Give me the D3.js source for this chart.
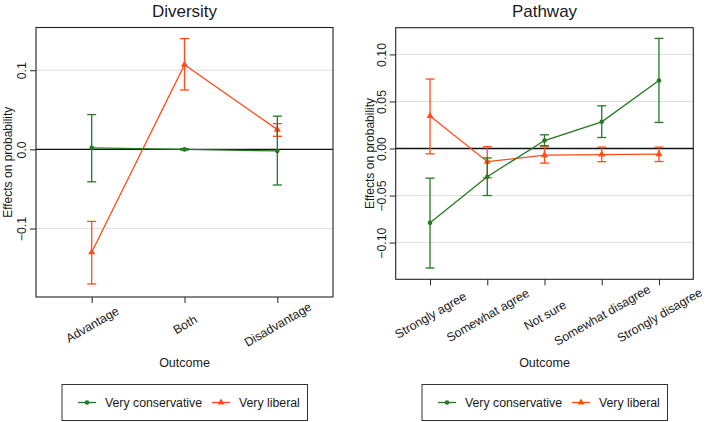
<!DOCTYPE html>
<html>
<head>
<meta charset="utf-8">
<script src="https://cdn.jsdelivr.net/npm/d3@7"></script>
<style>
  body { margin: 0; background: #fff; }
  text { font-family: "Liberation Sans", Arial, sans-serif; fill: #1a1a1a; }
</style>
</head>
<body>
<script>
// data
const divCategories = ['Advantage', 'Both', 'Disadvantage'];
const divConsEst  = [0.002, 0.0, -0.002];
const divConsLow  = [-0.041, -0.0008, -0.045];
const divConsHigh = [0.044, 0.0008, 0.042];
const divLibEst   = [-0.130, 0.107, 0.025];
const divLibLow   = [-0.170, 0.075, 0.0165];
const divLibHigh  = [-0.091, 0.140, 0.0325];
const divTicks    = [-0.1, 0.0, 0.1];

const pathCategories = ['Strongly agree', 'Somewhat agree', 'Not sure', 'Somewhat disagree', 'Strongly disagree'];
const pathConsEst  = [-0.079, -0.030, 0.0085, 0.0284, 0.0723];
const pathConsLow  = [-0.127, -0.050, 0.003, 0.0117, 0.0277];
const pathConsHigh = [-0.0315, -0.010, 0.0146, 0.0454, 0.117];
const pathLibEst   = [0.0345, -0.014, -0.007, -0.0064, -0.006];
const pathLibLow   = [-0.0056, -0.031, -0.0155, -0.014, -0.0138];
const pathLibHigh  = [0.0738, 0.002, 0.0018, 0.0015, 0.0015];
const pathTicks    = [-0.10, -0.05, 0.00, 0.05, 0.10];

const seriesNames = ['Very conservative', 'Very liberal'];
const colors = { cons: '#237a23', lib: '#ff4d1a' };

let frame = { width: 709, height: 422 };
let svg = d3.select('body')
	.append('svg')
	.attr('width', frame.width)
	.attr('height', frame.height);

let panels = [
	{
		title: 'Diversity', box: { left: 36, right: 333, top: 27.5, bottom: 297 },
		domain: [-0.1865, 0.154], ticks: divTicks, fmt: d3.format('.1f'), titleGap: 24.5,
		cats: divCategories,
		series: [
			{ key: 'lib', est: divLibEst, low: divLibLow, high: divLibHigh },
			{ key: 'cons', est: divConsEst, low: divConsLow, high: divConsHigh }
		],
		legendX: 62
	},
	{
		title: 'Pathway', box: { left: 395.7, right: 693.3, top: 27.7, bottom: 279.3 },
		domain: [-0.139, 0.1284], ticks: pathTicks, fmt: d3.format('.2f'), titleGap: 22,
		cats: pathCategories,
		series: [
			{ key: 'lib', est: pathLibEst, low: pathLibLow, high: pathLibHigh },
			{ key: 'cons', est: pathConsEst, low: pathConsLow, high: pathConsHigh }
		],
		legendX: 422
	}
];

const triangle = d3.symbol().type(d3.symbolTriangle).size(22);

panels.forEach(p => {
	let b = p.box;
	let g = svg.append('g');

	let xScale = d3.scalePoint()
		.domain(p.cats)
		.range([b.left, b.right])
		.padding(0.6);

	let yScale = d3.scaleLinear()
		.domain(p.domain)
		.range([b.bottom, b.top]);

	// grid lines
	g.selectAll('.grid')
		.data(p.ticks.filter(t => t !== 0))
		.enter()
		.append('line')
		.attr('x1', b.left).attr('x2', b.right)
		.attr('y1', d => yScale(d)).attr('y2', d => yScale(d))
		.attr('stroke', '#dedede')
		.attr('stroke-width', 1);

	// zero line
	g.append('line')
		.attr('x1', b.left).attr('x2', b.right)
		.attr('y1', yScale(0)).attr('y2', yScale(0))
		.attr('stroke', '#111')
		.attr('stroke-width', 1.3);

	// y axis ticks + rotated labels
	let yAxis = g.append('g')
		.attr('transform', `translate(${b.left},0)`)
		.call(d3.axisLeft(yScale).tickValues(p.ticks).tickSize(6).tickFormat(p.fmt));
	yAxis.select('.domain').remove();
	yAxis.selectAll('.tick line').attr('stroke', '#222');
	yAxis.selectAll('.tick text')
		.attr('x', null).attr('dy', null)
		.attr('transform', 'translate(-10,0) rotate(-90)')
		.attr('text-anchor', 'middle')
		.style('font-size', '12.3px')
		.style('font-family', '"Liberation Sans", Arial, sans-serif')
		.attr('fill', '#1a1a1a');

	// x axis ticks + rotated labels
	let xAxis = g.append('g')
		.attr('transform', `translate(0,${b.bottom})`)
		.call(d3.axisBottom(xScale).tickSize(6));
	xAxis.select('.domain').remove();
	xAxis.selectAll('.tick line').attr('stroke', '#222');
	let labels = xAxis.selectAll('.tick text')
		.attr('y', null).attr('dy', null)
		.attr('text-anchor', 'middle')
		.style('font-size', '12.3px')
		.style('font-family', '"Liberation Sans", Arial, sans-serif')
		.attr('fill', '#1a1a1a');
	let maxW = d3.max(labels.nodes(), n => n.getComputedTextLength());
	let labelY = 3.5 + (maxW * 0.5 + 12 * 0.866) / 2;
	labels.attr('transform', `translate(0,${labelY}) rotate(-30)`).attr('dy', '0.35em');

	// frame
	g.append('rect')
		.attr('x', b.left).attr('y', b.top)
		.attr('width', b.right - b.left).attr('height', b.bottom - b.top)
		.attr('fill', 'none')
		.attr('stroke', '#222')
		.attr('stroke-width', 1.1);

	// series
	p.series.forEach(s => {
		let color = colors[s.key];
		let sg = g.append('g');
		let idx = d3.range(p.cats.length);

		sg.append('path')
			.datum(idx)
			.attr('fill', 'none')
			.attr('stroke', color)
			.attr('stroke-width', 1.3)
			.attr('d', d3.line().x(i => xScale(p.cats[i])).y(i => yScale(s.est[i])));

		sg.selectAll('.bar')
			.data(idx)
			.enter()
			.append('line')
			.attr('x1', i => xScale(p.cats[i])).attr('x2', i => xScale(p.cats[i]))
			.attr('y1', i => yScale(s.low[i])).attr('y2', i => yScale(s.high[i]))
			.attr('stroke', color).attr('stroke-width', 1.3);

		['low', 'high'].forEach(k => {
			sg.selectAll('.cap-' + k)
				.data(idx)
				.enter()
				.append('line')
				.attr('x1', i => xScale(p.cats[i]) - 4.5).attr('x2', i => xScale(p.cats[i]) + 4.5)
				.attr('y1', i => yScale(s[k][i])).attr('y2', i => yScale(s[k][i]))
				.attr('stroke', color).attr('stroke-width', 1.3);
		});

		if (s.key === 'cons') {
			sg.selectAll('.pt')
				.data(idx)
				.enter()
				.append('circle')
				.attr('cx', i => xScale(p.cats[i]))
				.attr('cy', i => yScale(s.est[i]))
				.attr('r', 2.3)
				.attr('fill', color);
		} else {
			sg.selectAll('.pt')
				.data(idx)
				.enter()
				.append('path')
				.attr('d', triangle)
				.attr('transform', i => `translate(${xScale(p.cats[i])},${yScale(s.est[i])})`)
				.attr('fill', color);
		}
	});

	// title
	g.append('text')
		.attr('x', (b.left + b.right) / 2)
		.attr('y', 17)
		.attr('text-anchor', 'middle')
		.style('font-size', '17px')
		.text(p.title);

	// axis titles
	g.append('text')
		.attr('x', (b.left + b.right) / 2)
		.attr('y', 367)
		.attr('text-anchor', 'middle')
		.style('font-size', '12.5px')
		.text('Outcome');

	g.append('text')
		.attr('transform', `translate(${b.left - p.titleGap},${(b.top + b.bottom) / 2}) rotate(-90)`)
		.attr('text-anchor', 'middle')
		.style('font-size', '12px')
		.text('Effects on probability');

	// legend
	let lg = g.append('g').attr('transform', `translate(${p.legendX},384.5)`);
	lg.append('rect')
		.attr('width', 245.5).attr('height', 36)
		.attr('fill', 'none')
		.attr('stroke', '#333')
		.attr('stroke-width', 1);

	let items = [
		{ key: 'cons', name: seriesNames[0], x: 16 },
		{ key: 'lib', name: seriesNames[1], x: 150 }
	];
	items.forEach(it => {
		lg.append('line')
			.attr('x1', it.x).attr('x2', it.x + 18)
			.attr('y1', 18).attr('y2', 18)
			.attr('stroke', colors[it.key]).attr('stroke-width', 1.3);
		if (it.key === 'cons') {
			lg.append('circle').attr('cx', it.x + 9).attr('cy', 18).attr('r', 2.3).attr('fill', colors[it.key]);
		} else {
			lg.append('path').attr('d', triangle).attr('transform', `translate(${it.x + 9},18)`).attr('fill', colors[it.key]);
		}
		lg.append('text')
			.attr('x', it.x + 27)
			.attr('y', 22.3)
			.style('font-size', '12.3px')
			.text(it.name);
	});
});
</script>
</body>
</html>
